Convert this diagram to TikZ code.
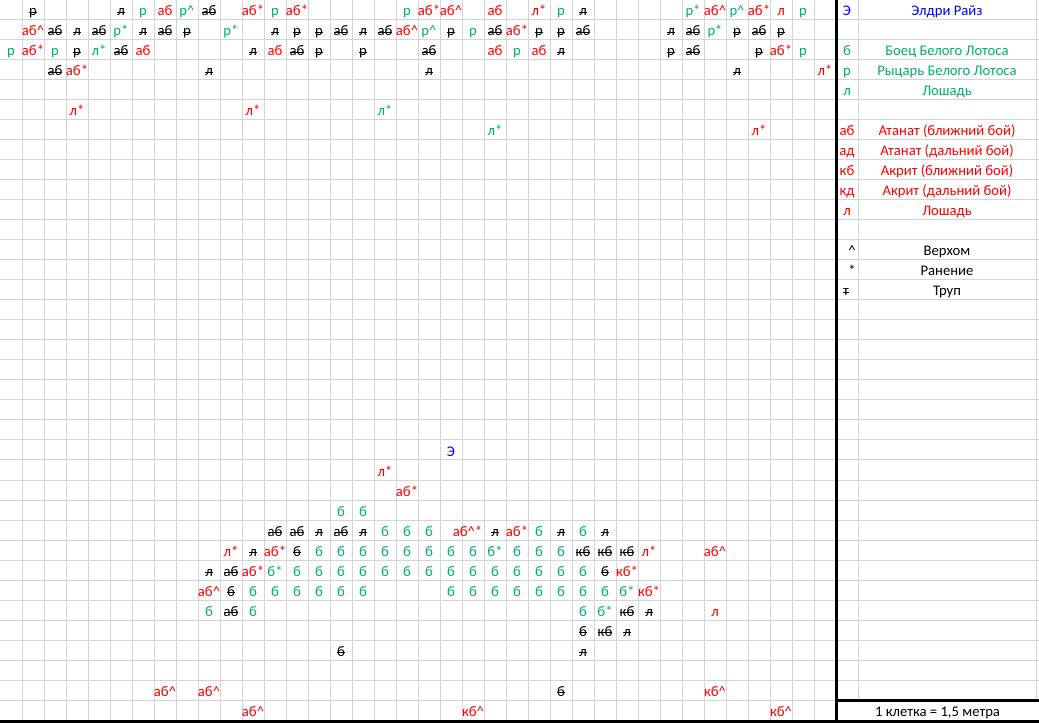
\documentclass[tikz,border=0pt]{standalone}
\usepackage{fontspec}
\setmainfont{Carlito}
\definecolor{gridgray}{RGB}{212,212,212}
\definecolor{foered}{RGB}{255,0,0}
\definecolor{allygreen}{RGB}{0,176,110}
\definecolor{heroblue}{RGB}{0,0,255}
\def\up{\textasciicircum}
\newcommand{\trup}[1]{\setbox0=\hbox{#1}\rlap{\rule[0.5ex]{\wd0}{0.6pt}}\box0}
\tikzset{
	cell/.style={inner sep=0pt, anchor=base, font=\fontsize{11}{13}\selectfont},
	ally/.style={cell, text=allygreen},
	foe/.style={cell, text=foered},
	corpse/.style={cell, text=black},
	hero/.style={cell, text=heroblue},
	gridline/.style={draw=gridgray, line width=0.75pt},
	border/.style={draw=black, line width=2.25pt}
}

\begin{document}
\begin{tikzpicture}[x=0.75pt, y=-0.75pt]
			%%%%% START %%%%%
			\useasboundingbox (0,0) rectangle (1039,723);
			
			\foreach \k in {1,...,37} \draw[gridline] (22*\k,0) -- (22*\k,720);
			\foreach \r in {1,...,35} \draw[gridline] (0,20*\r) -- (1039,20*\r);
			\draw[gridline] (858,0) -- (858,700);
			\draw[gridline] (1036,0) -- (1036,700);
			
			\draw[border] (836.5,0) -- (836.5,723);
			\draw[border] (836,700.5) -- (1039,700.5);
			\draw[border] (0,721.5) -- (1039,721.5);
			
			% living ones of the Lotus
			\foreach \c/\r/\t in {6/1/р, 8/1/р\up, 12/1/р, 18/1/р, 25/1/р, 31/1/р*, 33/1/р\up, 36/1/р,
				5/2/р*, 10/2/р*, 19/2/р\up, 21/2/р, 32/2/р*,
				0/3/р, 2/3/р, 4/3/л*, 23/3/р, 36/3/р,
				17/6/л*, 22/7/л*,
				15/26/б, 16/26/б, 17/27/б, 18/27/б, 19/27/б, 24/27/б, 26/27/б,
				22/28/б*, 23/28/б, 24/28/б, 25/28/б, 12/29/б*, 28/30/б*,
				9/31/б, 11/31/б, 26/31/б, 27/31/б*}
				\node[ally] (c\c-\r) at (22*\c+11,20*\r-4) {\t};
			\foreach \r/\a/\b in {28/14/21, 29/13/26, 30/11/16, 30/20/27}
				\foreach \c in {\a,...,\b}
					\node[ally] (c\c-\r) at (22*\c+11,20*\r-4) {б};
			
			% the enemy
			\foreach \c/\r/\t in {7/1/аб, 11/1/аб*, 13/1/аб*, 19/1/аб*, 20/1/аб\up, 22/1/аб, 24/1/л*, 32/1/аб\up, 34/1/аб*, 35/1/л,
				1/2/аб\up, 18/2/аб\up, 23/2/аб*,
				1/3/аб*, 6/3/аб, 12/3/аб, 22/3/аб, 24/3/аб, 35/3/аб*,
				3/4/аб*, 37/4/л*, 3/6/л*, 11/6/л*, 34/7/л*,
				17/24/л*, 18/25/аб*, 23/27/аб*,
				10/28/л*, 12/28/аб*, 29/28/л*, 32/28/аб\up,
				11/29/аб*, 28/29/кб*, 9/30/аб\up, 29/30/кб*, 32/31/л,
				7/35/аб\up, 9/35/аб\up, 32/35/кб\up,
				11/36/аб\up, 21/36/кб\up, 35/36/кб\up}
				\node[foe] (c\c-\r) at (22*\c+11,20*\r-4) {\t};
			\node[foe] (c21-27) at (467.5,536) {аб\up*};
			
			% the dead
			\foreach \c/\r/\t in {1/1/р, 5/1/л, 9/1/аб, 26/1/л,
				2/2/аб, 3/2/л, 4/2/аб, 6/2/л, 7/2/аб, 8/2/р, 12/2/л, 13/2/р, 14/2/р, 15/2/аб, 16/2/л, 17/2/аб,
				20/2/р, 22/2/аб, 24/2/р, 25/2/р, 26/2/аб, 30/2/л, 31/2/аб, 33/2/р, 34/2/аб, 35/2/р,
				3/3/р, 5/3/аб, 11/3/л, 13/3/аб, 14/3/р, 16/3/р, 19/3/аб, 25/3/л, 30/3/р, 31/3/аб, 34/3/р,
				2/4/аб, 9/4/л, 19/4/л, 33/4/л,
				12/27/аб, 13/27/аб, 14/27/л, 15/27/аб, 16/27/л, 22/27/л, 25/27/л, 27/27/л,
				11/28/л, 13/28/б, 26/28/кб, 27/28/кб, 28/28/кб,
				9/29/л, 10/29/аб, 27/29/б, 10/30/б,
				10/31/аб, 28/31/кб, 29/31/л,
				26/32/б, 27/32/кб, 28/32/л, 15/33/б, 26/33/л, 25/35/б}
				\node[corpse] (c\c-\r) at (22*\c+11,20*\r-4) {\trup{\t}};
			
			\node[hero] (c20-23) at (451,456) {Э};
			
			% key
			\node[hero] (keyE) at (847,16) {Э};
			\node[hero] (nameE) at (947,16) {Элдри Райз};
			\foreach \r/\s/\d in {3/б/Боец Белого Лотоса, 4/р/Рыцарь Белого Лотоса, 5/л/Лошадь}{
				\node[ally] (key\r) at (847,20*\r-4) {\s};
				\node[ally] (name\r) at (947,20*\r-4) {\d};
			}
			\foreach \r/\s/\d in {7/аб/Атанат (ближний бой), 8/ад/Атанат (дальний бой), 9/кб/Акрит (ближний бой), 10/кд/Акрит (дальний бой), 11/л/Лошадь}{
				\node[foe] (key\r) at (847,20*\r-4) {\s};
				\node[foe] (name\r) at (947,20*\r-4) {\d};
			}
			\node[corpse] (key13) at (852,256) {\up};
			\node[corpse] (name13) at (947,256) {Верхом};
			\node[corpse] (key14) at (852,276) {*};
			\node[corpse] (name14) at (947,276) {Ранение};
			\node[corpse] (key15) at (846,296) {\trup{т}};
			\node[corpse] (name15) at (947,296) {Труп};
			
			\node[corpse] (scale) at (937.5,716) {1 клетка = 1,5 метра};
			%%%%% END %%%%%
\end{tikzpicture}
\end{document}
